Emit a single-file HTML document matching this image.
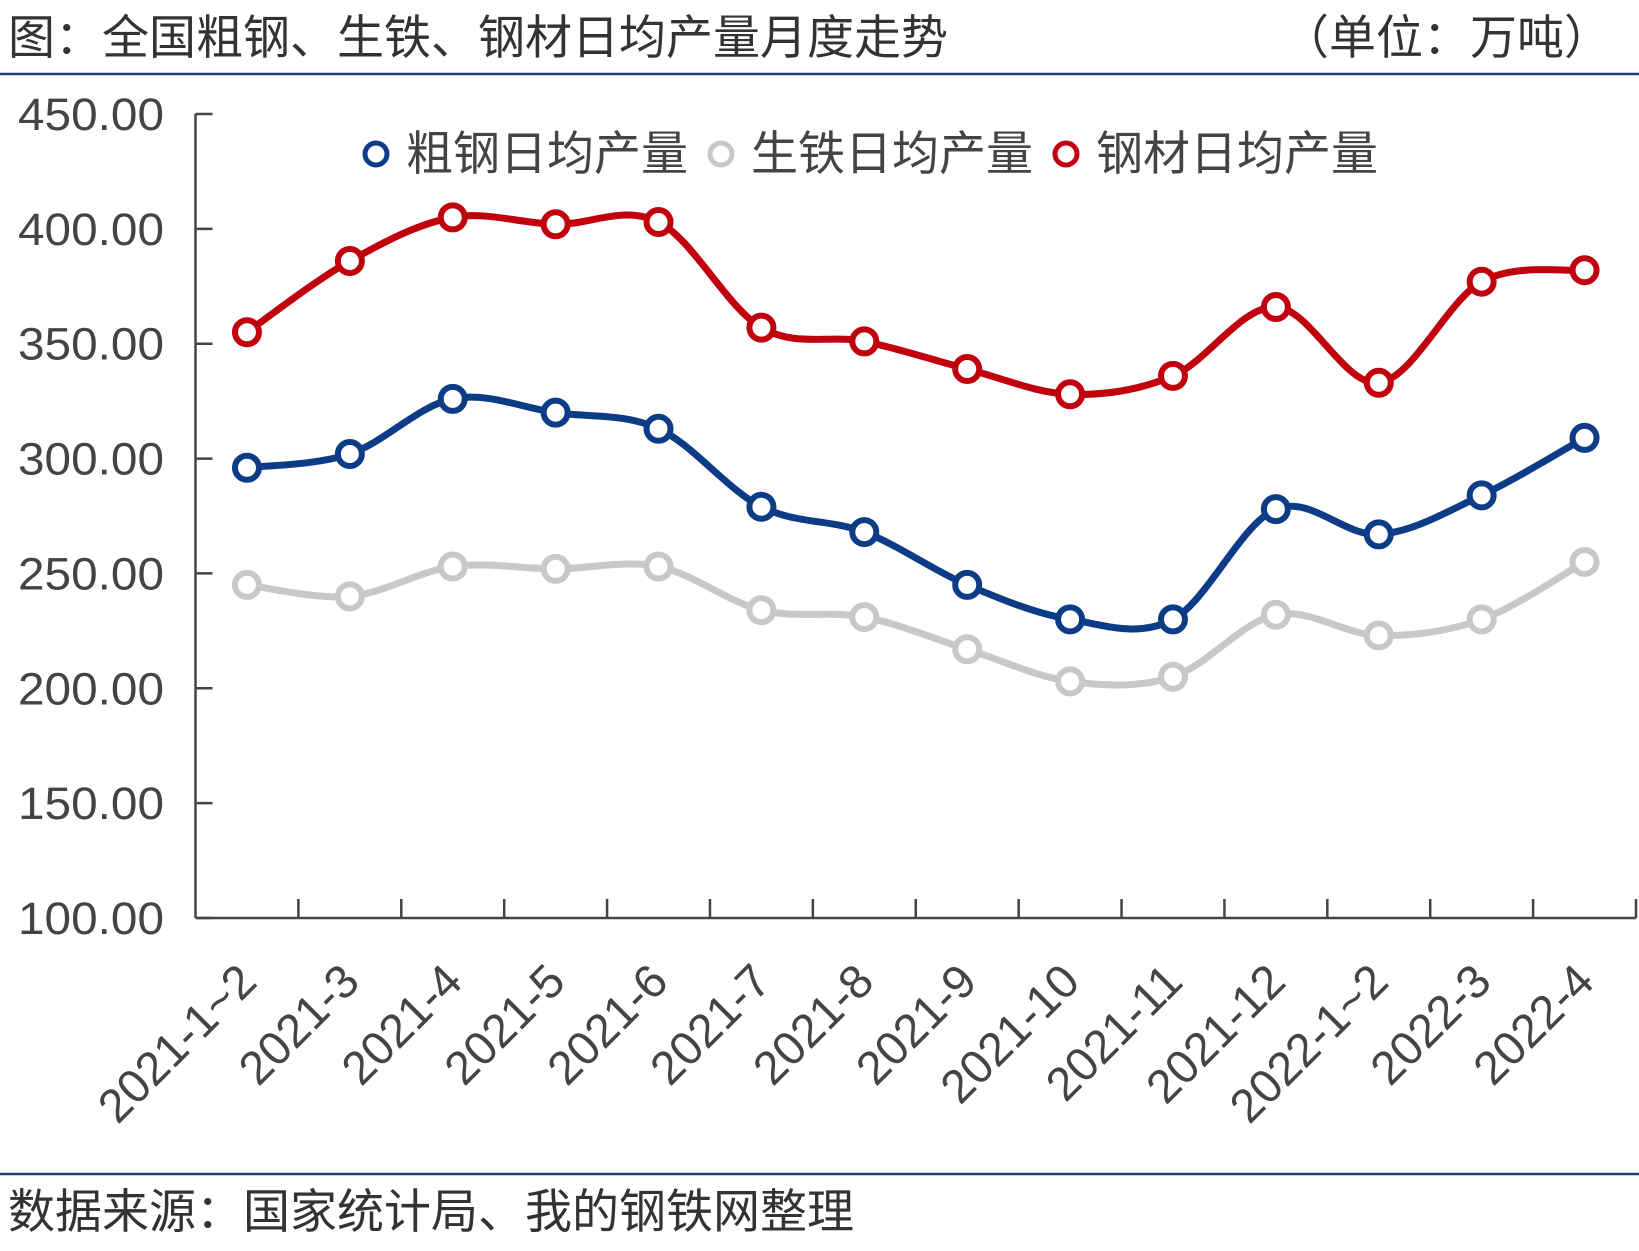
<!DOCTYPE html>
<html><head><meta charset="utf-8"><style>
html,body{margin:0;padding:0;background:#fff;}
svg{display:block;font-family:"Liberation Sans","Noto Sans CJK SC",sans-serif;}
</style></head><body>
<svg id="s" width="1639" height="1251" viewBox="0 0 1639 1251">
<rect width="1639" height="1251" fill="#fff"/>
<text x="8" y="54" font-size="47" fill="#333">图：全国粗钢、生铁、钢材日均产量月度走势</text>
<text x="1611" y="54" font-size="47" fill="#333" text-anchor="end">（单位：万吨）</text>
<line x1="0" y1="74" x2="1639" y2="74" stroke="#1f3e7a" stroke-width="2.5"/>
<line x1="0" y1="1174" x2="1639" y2="1174" stroke="#1f3e7a" stroke-width="2.5"/>
<text x="8" y="1228" font-size="47" fill="#333">数据来源：国家统计局、我的钢铁网整理</text>
<g id="axes" stroke="#444" stroke-width="2.5" fill="none"></g>
<g id="ylab" font-size="45" fill="#444" text-anchor="end"></g>
<g id="xlab" font-size="47" fill="#444" text-anchor="end"></g>
<g id="series"></g>
<g font-size="47" fill="#444">
<circle cx="376" cy="154" r="11" fill="#fff" stroke="#0d3c87" stroke-width="5"/>
<text x="406" y="170">粗钢日均产量</text>
<circle cx="721" cy="154" r="11" fill="#fff" stroke="#c8c8c8" stroke-width="5"/>
<text x="751" y="170">生铁日均产量</text>
<circle cx="1066" cy="154" r="11" fill="#fff" stroke="#c0000c" stroke-width="5"/>
<text x="1096" y="170">钢材日均产量</text>
</g>
</svg>
<script>
var NS="http://www.w3.org/2000/svg";
function el(t,a,p){var e=document.createElementNS(NS,t);for(var k in a)e.setAttribute(k,a[k]);p.appendChild(e);return e;}
var L=195.5,R=1636,T=114,B=918;
function Y(v){return B-(v-100)*(B-T)/350;}
var cw=(R-L)/14;function X(i){return L+cw*(i+0.5);}
var ax=document.getElementById('axes');
el('line',{x1:L,y1:T,x2:L,y2:B},ax);el('line',{x1:L,y1:B,x2:R,y2:B},ax);
var yl=document.getElementById('ylab');
for(var v=100;v<=450;v+=50){el('line',{x1:L,y1:Y(v),x2:L+17,y2:Y(v)},ax);var t=el('text',{x:164,y:Y(v)+16,textLength:146,lengthAdjust:'spacingAndGlyphs'},yl);t.textContent=v.toFixed(2);}
for(var i=1;i<=14;i++){var x=L+cw*i;el('line',{x1:x,y1:B,x2:x,y2:B-19},ax);}
var cats=["2021-1~2","2021-3","2021-4","2021-5","2021-6","2021-7","2021-8","2021-9","2021-10","2021-11","2021-12","2022-1~2","2022-3","2022-4"];
var xl=document.getElementById('xlab');
cats.forEach(function(c,i){var x=X(i)+12,y=B+66;var t=el('text',{x:x,y:y,transform:'rotate(-45 '+x+' '+y+')'},xl);t.textContent=c;});
var data=[
["#c8c8c8",[245,240,253,252,253,234,231,217,203,205,232,223,230,255]],
["#0d3c87",[296,302,326,320,313,279,268,245,230,230,278,267,284,309]],
["#c0000c",[355,386,405,402,403,357,351,339,328,336,366,333,377,382]]];
var sg=document.getElementById('series');
data.forEach(function(s){var p=s[1].map(function(v,i){return [X(i),Y(v)];});
var d="M"+p[0][0]+","+p[0][1];
for(var i=0;i<p.length-1;i++){var p0=p[Math.max(i-1,0)],p1=p[i],p2=p[i+1],p3=p[Math.min(i+2,p.length-1)];var k=1/6;
d+=" C"+(p1[0]+(p2[0]-p0[0])*k)+","+(p1[1]+(p2[1]-p0[1])*k)+" "+(p2[0]-(p3[0]-p1[0])*k)+","+(p2[1]-(p3[1]-p1[1])*k)+" "+p2[0]+","+p2[1];}
el('path',{d:d,fill:'none',stroke:s[0],'stroke-width':7},sg);
p.forEach(function(q){el('circle',{cx:q[0],cy:q[1],r:12,fill:'#fff',stroke:s[0],'stroke-width':6},sg);});});
</script>
</body></html>
